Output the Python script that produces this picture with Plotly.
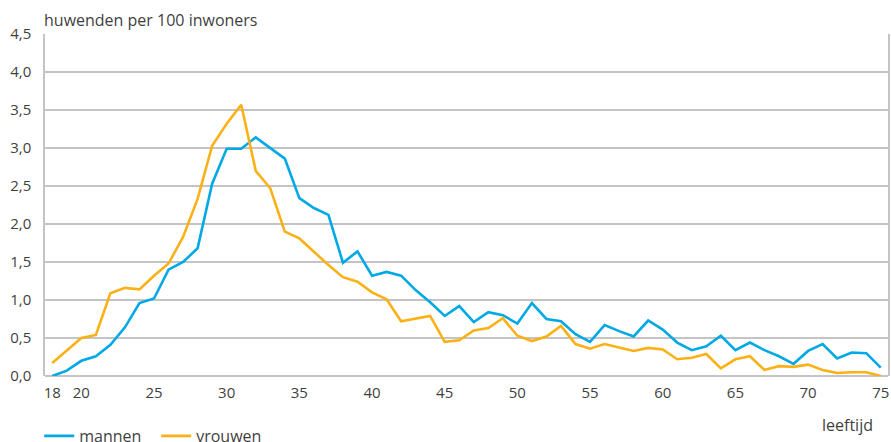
import plotly.graph_objects as go

ages = list(range(18, 76))
mannen = [0.00, 0.07, 0.20, 0.26, 0.41, 0.64, 0.96, 1.02, 1.40, 1.50,
          1.68, 2.53, 2.99, 2.99, 3.14, 3.00, 2.86, 2.34, 2.21, 2.12,
          1.49, 1.64, 1.32, 1.37, 1.32, 1.13, 0.97, 0.79, 0.92, 0.71,
          0.84, 0.80, 0.69, 0.96, 0.75, 0.72, 0.55, 0.45, 0.67, 0.59,
          0.52, 0.73, 0.61, 0.44, 0.34, 0.39, 0.53, 0.34, 0.44, 0.34,
          0.26, 0.16, 0.33, 0.42, 0.23, 0.31, 0.30, 0.11]
vrouwen = [0.17, 0.33, 0.50, 0.54, 1.09, 1.16, 1.14, 1.32, 1.48, 1.83,
           2.33, 3.03, 3.32, 3.57, 2.70, 2.47, 1.90, 1.81, 1.63, 1.46,
           1.30, 1.24, 1.10, 1.01, 0.72, 0.76, 0.79, 0.45, 0.47, 0.60,
           0.63, 0.76, 0.53, 0.46, 0.52, 0.66, 0.42, 0.36, 0.42, 0.375,
           0.33, 0.37, 0.35, 0.22, 0.24, 0.29, 0.10, 0.22, 0.26, 0.08,
           0.13, 0.12, 0.15, 0.08, 0.04, 0.05, 0.05, 0.00]
x_ticks = [18, 20, 25, 30, 35, 40, 45, 50, 55, 60, 65, 70, 75]
y_ticks = [0, 0.5, 1.0, 1.5, 2.0, 2.5, 3.0, 3.5, 4.0, 4.5]

FONT = "Open Sans"
TXT = "#3f3f3f"
GRID = "#c4c4c4"

fig = go.Figure()
fig.add_trace(go.Scatter(x=ages, y=mannen, mode="lines", name="mannen",
                         line=dict(color="#00a9e6", width=2.6)))
fig.add_trace(go.Scatter(x=ages, y=vrouwen, mode="lines", name="vrouwen",
                         line=dict(color="#fbb116", width=2.6)))

fig.update_layout(
    width=891, height=442,
    margin=dict(l=45, r=3, t=34, b=66, autoexpand=False),
    paper_bgcolor="white", plot_bgcolor="white",
    separators=",.",
    font=dict(family=FONT, size=15, color=TXT),
    showlegend=True,
    legend=dict(orientation="h", x=0.044, xanchor="left", xref="container",
                y=0.052, yanchor="top", yref="container",
                font=dict(family=FONT, size=16, color=TXT),
                entrywidth=72, entrywidthmode="pixels",
                itemwidth=30, tracegroupgap=0, bgcolor="rgba(0,0,0,0)"),
    xaxis=dict(range=[17.5, 75.5], tickmode="array", tickvals=x_ticks,
               ticktext=[str(t) for t in x_ticks], showgrid=False,
               showline=False, zeroline=False, ticks="", automargin=False,
               ticklabelstandoff=6,
               tickfont=dict(family=FONT, size=15, color=TXT)),
    yaxis=dict(range=[0, 4.5], tickmode="array", tickvals=y_ticks,
               tickformat=".1f", showgrid=True, gridcolor=GRID, gridwidth=1.5,
               showline=True, linecolor=GRID, linewidth=1.5, mirror=True,
               zeroline=True, zerolinecolor=GRID, zerolinewidth=1.5,
               ticks="", ticklabelstandoff=9, automargin=False,
               tickfont=dict(family=FONT, size=15, color=TXT)),
    annotations=[
        dict(text="huwenden per 100 inwoners", xref="paper", yref="paper",
             x=-0.003, y=1.041, xanchor="left", yanchor="middle",
             showarrow=False, font=dict(family=FONT, size=16, color=TXT)),
        dict(text="leeftijd", xref="paper", yref="paper",
             x=0.984, y=-0.143, xanchor="right", yanchor="middle",
             showarrow=False, font=dict(family=FONT, size=16, color=TXT)),
    ],
)

fig.write_html("out.html",
               config={"displayModeBar": False},
               post_script="document.body.style.margin='0';")
